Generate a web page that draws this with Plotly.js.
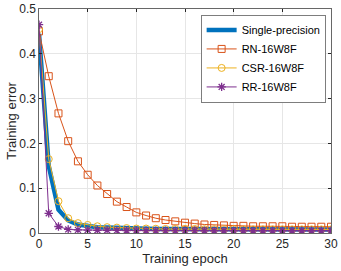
<!DOCTYPE html>
<html><head><meta charset="utf-8">
<script src="https://cdn.plot.ly/plotly-3.0.1.min.js"></script>
<style>html,body{margin:0;padding:0;background:#fff}#c{width:341px;height:271px}</style>
</head><body><div id="c"></div>
<script>
const epochs = Array.from({length:31},(_,i)=>i);
const single = [0.445,0.15,0.052,0.028,0.019,0.015,0.013,0.012,0.011,0.010,0.010,0.0095,0.009,0.009,0.009,0.0085,0.0085,0.0085,0.008,0.008,0.008,0.008,0.008,0.008,0.008,0.008,0.008,0.008,0.008,0.008,0.008];
const rn = [0.45,0.35,0.267,0.205,0.16,0.13,0.106,0.087,0.07,0.058,0.046,0.039,0.033,0.029,0.026,0.023,0.021,0.019,0.018,0.017,0.016,0.016,0.015,0.015,0.015,0.015,0.014,0.014,0.014,0.014,0.014];
const csr = [0.455,0.165,0.071,0.033,0.022,0.018,0.015,0.013,0.012,0.011,0.010,0.010,0.0095,0.009,0.009,0.009,0.009,0.0085,0.0085,0.0085,0.0085,0.008,0.008,0.008,0.008,0.008,0.008,0.008,0.008,0.008,0.008];
const rr = [0.465,0.044,0.0145,0.008,0.007,0.0065,0.006,0.006,0.0058,0.0056,0.0055,0.0054,0.0053,0.0052,0.0052,0.0051,0.0051,0.005,0.005,0.005,0.005,0.005,0.005,0.005,0.005,0.005,0.005,0.005,0.005,0.005,0.005];
const names = ['Single-precision','RN-16W8F','CSR-16W8F','RR-16W8F'];
const xTitle = 'Training epoch';
const yTitle = 'Training error';
const font = {family:'Liberation Sans, Arial, sans-serif', size:12, color:'#262626'};
const traces = [
 {x:epochs,y:single,name:names[0],mode:'lines',line:{color:'#0072BD',width:4.5}},
 {x:epochs,y:rn,name:names[1],mode:'lines+markers',line:{color:'#D95319',width:1},marker:{symbol:'square-open',size:7,color:'#D95319',line:{width:1}}},
 {x:epochs,y:csr,name:names[2],mode:'lines+markers',line:{color:'#EDB120',width:1},marker:{symbol:'circle-open',size:7,color:'#EDB120',line:{width:1}}},
 {x:epochs,y:rr,name:names[3],mode:'lines+markers',line:{color:'#7E2F8E',width:1},marker:{symbol:'asterisk-open',size:7,color:'#7E2F8E',line:{width:1.3,color:'#7E2F8E'}}}
];
const axisCommon = {ticks:'inside',ticklen:3,tickcolor:'#262626',showline:true,linecolor:'#262626',linewidth:0.7,mirror:'ticks',showgrid:true,gridcolor:'#e6e6e6',zeroline:false,tickfont:{size:12,color:'#262626'},automargin:false};
const layout = {
 width:341,height:271,margin:{l:39,r:10,t:9,b:38},
 paper_bgcolor:'#fff',plot_bgcolor:'#fff',font:font,
 showlegend:true,
 legend:{x:0.983,y:0.974,xanchor:'right',yanchor:'top',bgcolor:'#fff',bordercolor:'#262626',borderwidth:0.6,font:{family:font.family,size:11,color:'#000'},tracegroupgap:0},
 xaxis:Object.assign({},axisCommon,{range:[0,30],tickmode:'linear',tick0:0,dtick:5,title:{text:xTitle,font:{size:13},standoff:3}}),
 yaxis:Object.assign({},axisCommon,{range:[0,0.5],tickmode:'linear',tick0:0,dtick:0.1}),
 annotations:[{xref:'paper',yref:'paper',x:-0.097,y:0.5,xanchor:'center',yanchor:'middle',text:yTitle,textangle:-90,showarrow:false,font:{size:13,color:'#262626'}}]
};
Plotly.newPlot('c',traces,layout,{displayModeBar:false,staticPlot:true});
</script></body></html>
